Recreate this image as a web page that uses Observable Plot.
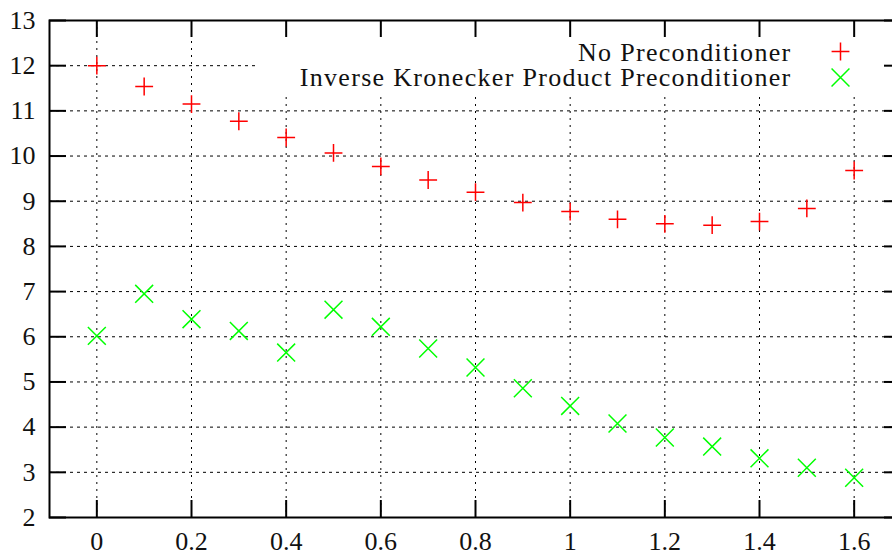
<!DOCTYPE html>
<html>
<head>
<meta charset="utf-8">
<script src="https://cdn.jsdelivr.net/npm/d3@7"></script>
<script src="https://cdn.jsdelivr.net/npm/@observablehq/plot@0.6"></script>
<style>
  html, body { margin: 0; padding: 0; background: #fff; overflow: hidden; }
  #chart svg { max-width: none !important; display: block; }
</style>
</head>
<body>
<div id="chart"></div>
<script>
const xValues = [0, 0.1, 0.2, 0.3, 0.4, 0.5, 0.6, 0.7, 0.8, 0.9, 1.0, 1.1, 1.2, 1.3, 1.4, 1.5, 1.6];
const noPrecond = [12.0, 11.54, 11.15, 10.77, 10.41, 10.07, 9.77, 9.47, 9.2, 8.97, 8.77, 8.6, 8.5, 8.47, 8.55, 8.84, 9.68];
const kronPrecond = [6.02, 6.95, 6.39, 6.13, 5.65, 6.6, 6.22, 5.74, 5.32, 4.86, 4.47, 4.08, 3.77, 3.57, 3.31, 3.1, 2.88];
const seriesNames = ["No Preconditioner", "Inverse Kronecker Product Preconditioner"];
const xTicks = [0, 0.2, 0.4, 0.6, 0.8, 1.0, 1.2, 1.4, 1.6];
const yTicks = [2, 3, 4, 5, 6, 7, 8, 9, 10, 11, 12, 13];
const yGrid = [3, 4, 5, 6, 7, 8, 9, 10, 11, 12];

const red = xValues.map((x, i) => ({x, y: noPrecond[i]}));
const green = xValues.map((x, i) => ({x, y: kronPrecond[i]}));

const W = 910, H = 555, ML = 49, MR = 9, MT = 20, MB = 38;
const FW = W - ML - MR, FH = H - MT - MB, TICK = 17;

const chart = Plot.plot({
  width: W, height: H,
  marginLeft: ML, marginRight: MR, marginTop: MT, marginBottom: MB,
  style: {fontFamily: "'Liberation Serif', serif", fontSize: "26px", color: "#111", background: "#fff", maxWidth: "none"},
  x: {domain: [-0.1, 1.7], axis: null, label: null},
  y: {domain: [2, 13], axis: null, label: null},
  marks: [
    Plot.ruleX(xTicks, {x: d => d, stroke: "#000", strokeWidth: 1, strokeDasharray: "2,5"}),
    Plot.ruleY(yGrid, {y: d => d, stroke: "#000", strokeWidth: 1, strokeDasharray: "3,4"}),
    Plot.frame({fill: "white", stroke: "none", insetLeft: 209, insetBottom: FH - 72}),
    Plot.dot(red, {x: "x", y: "y", symbol: "plus", r: 5.8, stroke: "#ff0000", strokeWidth: 1.5}),
    Plot.dot(green, {x: "x", y: "y", symbol: "times", r: 8.2, stroke: "#00ff00", strokeWidth: 1.5}),
    Plot.text([seriesNames[0]], {text: d => d, frameAnchor: "top-right", textAnchor: "end", lineAnchor: "middle", dx: -110, dy: 32, fill: "#111"}),
    Plot.text([seriesNames[1]], {text: d => d, frameAnchor: "top-right", textAnchor: "end", lineAnchor: "middle", dx: -110, dy: 57.5, fill: "#111"}),
    Plot.dot([seriesNames[0]], {frameAnchor: "top-right", dx: -61, dy: 31, symbol: "plus", r: 5.8, stroke: "#ff0000", strokeWidth: 1.5}),
    Plot.dot([seriesNames[1]], {frameAnchor: "top-right", dx: -61, dy: 57, symbol: "times", r: 8.2, stroke: "#00ff00", strokeWidth: 1.5}),
    // inward ticks
    Plot.ruleX(xTicks, {x: d => d, insetTop: FH - TICK, stroke: "#000", strokeWidth: 2}),
    Plot.ruleX(xTicks, {x: d => d, insetBottom: FH - TICK, stroke: "#000", strokeWidth: 2}),
    Plot.ruleY(yTicks, {y: d => d, insetRight: FW - TICK, stroke: "#000", strokeWidth: 2}),
    Plot.ruleY(yTicks, {y: d => d, insetLeft: FW - TICK, stroke: "#000", strokeWidth: 2}),
    Plot.frame({stroke: "#000", strokeWidth: 2}),
    Plot.axisX(xTicks, {tickSize: 0, tickPadding: 14, fill: "#111", label: null, tickFormat: d => String(d)}),
    Plot.axisY(yTicks, {tickSize: 0, tickPadding: 14, fill: "#111", label: null, tickFormat: d => String(d)})
  ]
});
d3.select(chart).selectAll("text")
  .filter(function() { return seriesNames.includes(this.textContent); })
  .style("letter-spacing", "1.3px");
document.getElementById("chart").appendChild(chart);
</script>
</body>
</html>
